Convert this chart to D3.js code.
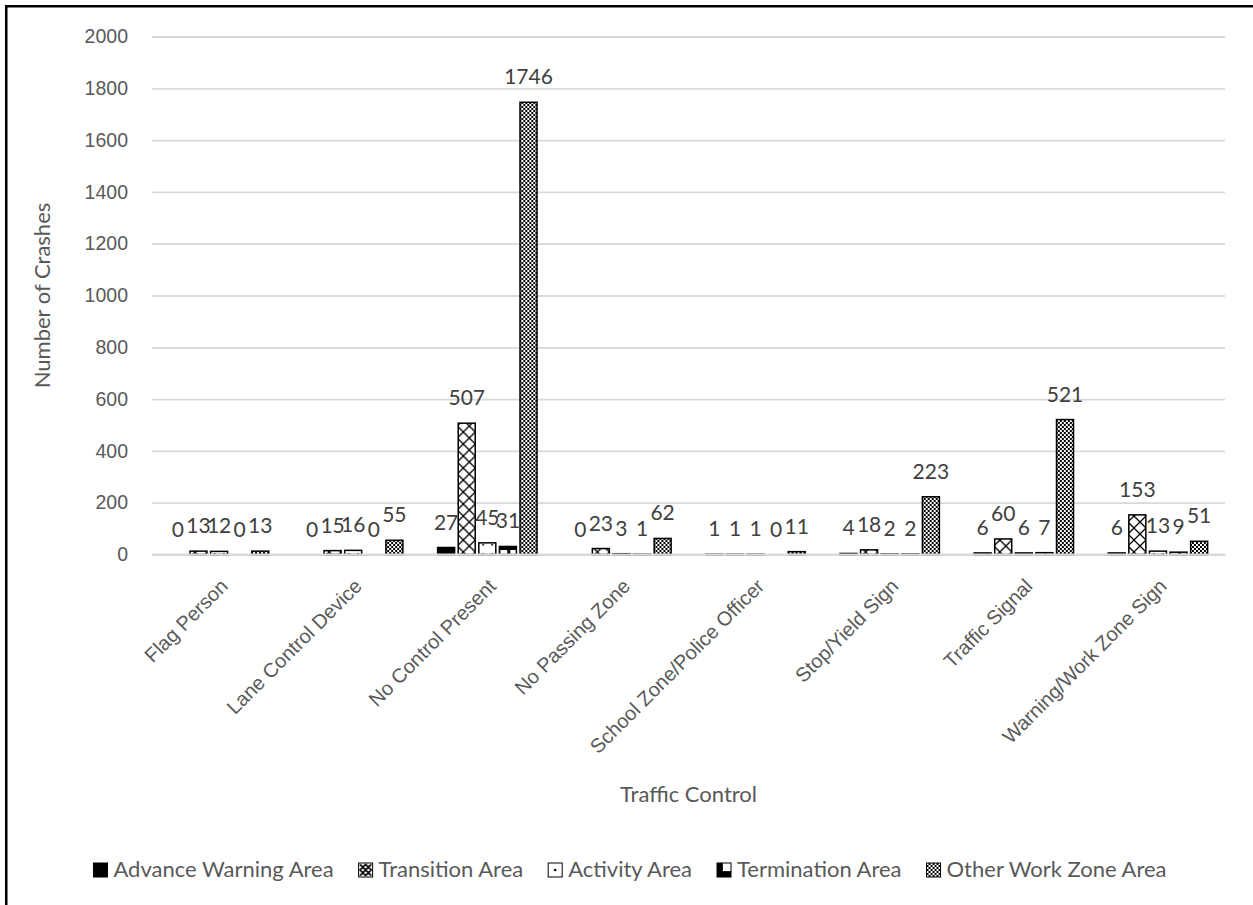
<!DOCTYPE html>
<html>
<head>
<meta charset="utf-8">
<script src="https://cdn.jsdelivr.net/npm/d3@7"></script>
<style>
  html, body { margin: 0; padding: 0; background: #fff; }
  svg { display: block; font-family: Lato, "Open Sans", sans-serif; }
</style>
</head>
<body>
<svg id="chart" width="1253" height="905"></svg>
<script>
// Crash counts by traffic control type and work zone area
const categories = [
  "Flag Person", "Lane Control Device", "No Control Present", "No Passing Zone",
  "School Zone/Police Officer", "Stop/Yield Sign", "Traffic Signal", "Warning/Work Zone Sign"
];
const seriesNames = ["Advance Warning Area", "Transition Area", "Activity Area", "Termination Area", "Other Work Zone Area"];
const advanceWarning = [0, 0, 27, 0, 1, 4, 6, 6];
const transition     = [13, 15, 507, 23, 1, 18, 60, 153];
const activity       = [12, 16, 45, 3, 1, 2, 6, 13];
const termination    = [0, 0, 31, 1, 0, 2, 7, 9];
const otherWorkZone  = [13, 55, 1746, 62, 11, 223, 521, 51];
const yTicks = [0, 200, 400, 600, 800, 1000, 1200, 1400, 1600, 1800, 2000];

const seriesValues = [advanceWarning, transition, activity, termination, otherWorkZone];
const fillIds = ["fill-adv", "fill-trans", "fill-act", "fill-term", "fill-other"];

const svg = d3.select("#chart");
const textColor = "#595959";
const gridColor = "#d9d9d9";

// Pattern fills for the bars (tiled in user space)
const defs = svg.append("defs");
function pattern(id, size) {
  const p = defs.append("pattern").attr("id", id)
    .attr("patternUnits", "userSpaceOnUse").attr("width", size).attr("height", size);
  p.append("rect").attr("width", size).attr("height", size).attr("fill", "#fff");
  return p;
}
defs.append("pattern").attr("id", "fill-adv").attr("patternUnits", "userSpaceOnUse")
  .attr("width", 4).attr("height", 4)
  .append("rect").attr("width", 4).attr("height", 4).attr("fill", "#000");
const pt = pattern("fill-trans", 12);
pt.append("path").attr("d", "M0,0L12,12M12,0L0,12").attr("stroke", "#000").attr("stroke-width", 1.3);
const pa = pattern("fill-act", 9);
pa.append("rect").attr("x", 4).attr("y", 4).attr("width", 1.6).attr("height", 1.6).attr("fill", "#000");
const pm = pattern("fill-term", 10);
pm.append("rect").attr("x", 0).attr("y", 0).attr("width", 3).attr("height", 10).attr("fill", "#000");
pm.append("rect").attr("x", 0).attr("y", 6).attr("width", 10).attr("height", 4).attr("fill", "#000");
const po = pattern("fill-other", 4);
po.append("rect").attr("x", 0).attr("y", 0).attr("width", 2).attr("height", 2).attr("fill", "#000");
po.append("rect").attr("x", 2).attr("y", 2).attr("width", 2).attr("height", 2).attr("fill", "#000");

// Legend swatch fills (one motif per swatch)
function swatch(id) {
  const p = defs.append("pattern").attr("id", id)
    .attr("patternUnits", "objectBoundingBox").attr("patternContentUnits", "objectBoundingBox")
    .attr("width", 1).attr("height", 1);
  p.append("rect").attr("width", 1).attr("height", 1).attr("fill", "#fff");
  return p;
}
const swatchIds = ["fill-adv", "sw-trans", "sw-act", "sw-term", "fill-other"];
const st = swatch("sw-trans");
st.append("path").attr("d", "M0.1,0.1L0.9,0.9M0.9,0.1L0.1,0.9M0.5,0.1L0.9,0.5L0.5,0.9L0.1,0.5Z")
  .attr("fill", "none").attr("stroke", "#000").attr("stroke-width", 0.12);
const sa = swatch("sw-act");
sa.append("rect").attr("x", 0.42).attr("y", 0.42).attr("width", 0.16).attr("height", 0.16).attr("fill", "#000");
const sm = swatch("sw-term");
sm.append("rect").attr("x", 0).attr("y", 0).attr("width", 0.42).attr("height", 1).attr("fill", "#000");
sm.append("rect").attr("x", 0).attr("y", 0.58).attr("width", 1).attr("height", 0.42).attr("fill", "#000");

// Plot geometry
const plot = { left: 152, right: 1225, top: 36.5, bottom: 554.5 };

const x0 = d3.scaleBand().domain(categories).range([plot.left, plot.right]).padding(0);
const x1 = d3.scaleBand().domain(seriesNames).range([-49.7, 49.7]).paddingInner(0.175).paddingOuter(0);
const y = d3.scaleLinear().domain([0, 2000]).range([plot.bottom, plot.top]);

// Outer chart border
svg.append("rect").attr("x", 6.25).attr("y", 6.25).attr("width", 1400).attr("height", 1000)
  .attr("fill", "none").attr("stroke", "#000").attr("stroke-width", 2.5);

// Gridlines
svg.append("g").attr("transform", `translate(${plot.left},0)`)
  .call(d3.axisLeft(y).tickValues(yTicks).tickSize(-(plot.right - plot.left)).tickFormat(""))
  .call(g => g.select(".domain").remove())
  .call(g => g.selectAll("line").attr("stroke", gridColor).attr("stroke-width", 1.8));

// Y tick labels
svg.append("g").attr("transform", `translate(${plot.left},0)`)
  .call(d3.axisLeft(y).tickValues(yTicks).tickSize(0).tickPadding(24).tickFormat(d3.format("d")))
  .call(g => g.select(".domain").remove())
  .call(g => g.selectAll("text").attr("fill", textColor).style("font-size", "19.5px"));

// Bars
const groups = svg.append("g").selectAll("g")
  .data(categories).join("g")
  .attr("transform", d => `translate(${x0(d) + x0.bandwidth() / 2},0)`);

groups.selectAll("rect")
  .data((c, ci) => seriesNames.map((s, si) => ({ s, si, v: seriesValues[si][ci] })))
  .join("rect")
  .attr("x", d => x1(d.s))
  .attr("width", x1.bandwidth())
  .attr("y", d => y(d.v))
  .attr("height", d => y(0) - y(d.v))
  .attr("fill", d => `url(#${fillIds[d.si]})`)
  .attr("stroke", "#000")
  .attr("stroke-width", d => d.v > 0 ? 1.5 : 0);

// Data labels
groups.selectAll("text")
  .data((c, ci) => seriesNames.map((s, si) => ({ s, si, v: seriesValues[si][ci] })))
  .join("text")
  .attr("x", d => x1(d.s) + x1.bandwidth() / 2)
  .attr("y", d => y(d.v) - 18)
  .attr("text-anchor", "middle")
  .attr("fill", "#404040")
  .style("font-size", "21px")
  .text(d => d.v);

// Baseline axis line
svg.append("line").attr("x1", plot.left).attr("x2", plot.right)
  .attr("y1", y(0)).attr("y2", y(0)).attr("stroke", gridColor).attr("stroke-width", 1.8);

// Category labels, rotated
svg.append("g").attr("transform", `translate(0,${plot.bottom})`)
  .call(d3.axisBottom(x0).tickSize(0).tickPadding(0))
  .call(g => g.select(".domain").remove())
  .call(g => g.selectAll("text")
    .attr("fill", textColor)
    .style("font-size", "20px")
    .attr("text-anchor", "end")
    .attr("dy", "0.35em")
    .attr("transform", "translate(5,28) rotate(-45)"));

// Axis titles
svg.append("text")
  .attr("transform", `translate(42,${(plot.top + plot.bottom) / 2}) rotate(-90)`)
  .attr("text-anchor", "middle").attr("dy", "0.35em")
  .attr("fill", textColor).style("font-size", "22px")
  .text("Number of Crashes");

svg.append("text")
  .attr("x", (plot.left + plot.right) / 2).attr("y", 802)
  .attr("text-anchor", "middle")
  .attr("fill", textColor).style("font-size", "22px")
  .text("Traffic Control");

// Legend
const legend = svg.append("g");
const items = legend.selectAll("g").data(seriesNames).join("g");
items.append("rect")
  .attr("width", 14).attr("height", 14).attr("y", -14)
  .attr("fill", (d, i) => `url(#${swatchIds[i]})`)
  .attr("stroke", "#000").attr("stroke-width", 1);
items.append("text")
  .attr("x", 20).attr("y", 0)
  .attr("fill", textColor).style("font-size", "22px")
  .text(d => d);
const gap = 25;
let cursor = 0;
items.each(function () {
  const w = d3.select(this).select("text").node().getComputedTextLength();
  d3.select(this).attr("data-offset", cursor);
  cursor += 20 + w + gap;
});
const totalW = cursor - gap;
const legendStart = 630 - totalW / 2;
items.attr("transform", function () {
  return `translate(${legendStart + (+this.getAttribute("data-offset"))},877)`;
});
</script>
</body>
</html>
